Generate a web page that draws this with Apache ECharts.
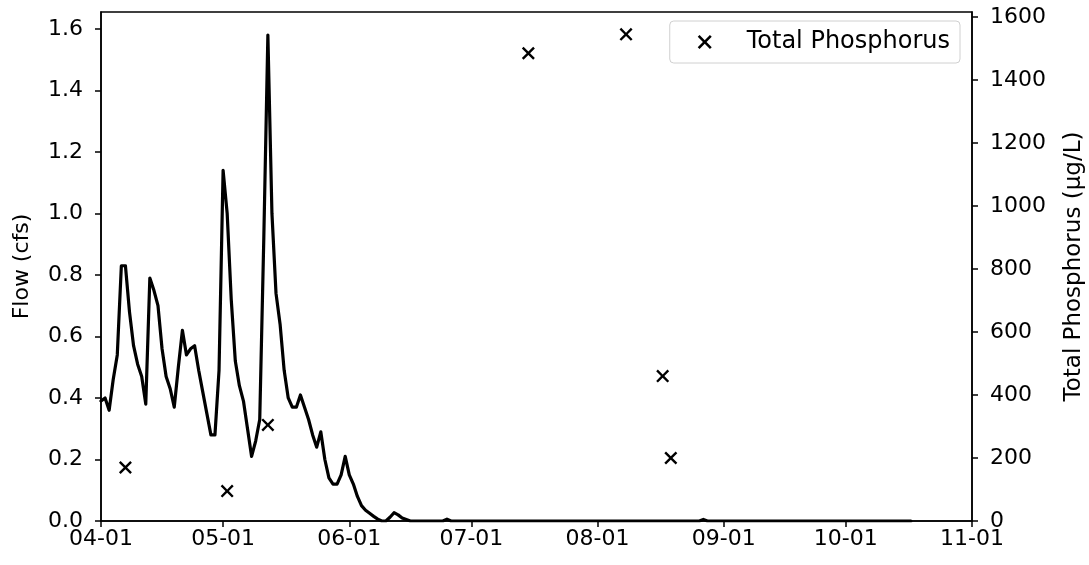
<!DOCTYPE html>
<html>
<head>
<meta charset="utf-8">
<script src="https://cdn.jsdelivr.net/npm/echarts@6/dist/echarts.min.js"></script>
<style>
html,body{margin:0;padding:0;background:#fff;}
#c{width:1089px;height:565px;}
</style>
</head>
<body>
<div id="c"></div>
<script>
// Flow (cfs): day offsets from 04-01 and values
const flowDays = [0,1,2,3,4,5,6,7,8,9,10,11,12,13,14,15,16,17,18,19,20,21,22,23,24,25,26,27,28,29,30,31,32,33,34,35,36,37,38,39,40,41,42,43,44,45,46,47,48,49,50,51,52,53,54,55,56,57,58,59,60,61,62,63,64,65,66,67,68,69,70,71,72,73,74,75,76,77,84,85,86,147,148,149,199];
const flowValues = [0.39,0.40,0.36,0.46,0.54,0.83,0.83,0.68,0.57,0.51,0.47,0.38,0.79,0.75,0.70,0.56,0.47,0.43,0.37,0.50,0.62,0.54,0.56,0.57,0.49,0.42,0.35,0.28,0.28,0.49,1.14,1.00,0.72,0.52,0.44,0.39,0.30,0.21,0.26,0.33,0.92,1.58,1.00,0.74,0.64,0.49,0.40,0.37,0.37,0.41,0.37,0.33,0.28,0.24,0.29,0.20,0.14,0.12,0.12,0.15,0.21,0.15,0.12,0.08,0.05,0.035,0.025,0.015,0.006,0,0,0.012,0.027,0.02,0.01,0.005,0,0,0,0.006,0,0,0.005,0,0];
// Total Phosphorus (µg/L) samples: day offsets from 04-01 and values
const tpDays = [6,31,41,105,129,138,140];
const tpValues = [170,95,305,1485,1545,460,200];
const startYear = 2019;
const xMinLabel = '04-01', xMaxLabel = '11-01';
const leftMax = 1.655, leftInterval = 0.2;
const rightMax = 1616, rightInterval = 200;
const seriesNames = ['Flow', 'Total Phosphorus'];
const axisNames = ['Flow (cfs)', 'Total Phosphorus (µg/L)'];

function dayToTime(d){ return new Date(startYear, 3, 1 + d).getTime(); }
function labelToTime(s){ const p = s.split('-'); return new Date(startYear, +p[0]-1, +p[1]).getTime(); }

const flowData = flowDays.map((d,i)=>[dayToTime(d), flowValues[i]]);
const tpData = tpDays.map((d,i)=>[dayToTime(d), tpValues[i]]);

const X = 'path://M0,1.3 L1.3,0 L5,3.7 L8.7,0 L10,1.3 L6.3,5 L10,8.7 L8.7,10 L5,6.3 L1.3,10 L0,8.7 L3.7,5 Z';
const font = 'DejaVu Sans';
const fs = 22;

const chart = echarts.init(document.getElementById('c'), null, {renderer:'canvas'});
chart.setOption({
  backgroundColor:'#fff',
  animation:false,
  textStyle:{fontFamily:font},
  grid:{left:101,right:117,top:12,bottom:44,show:true,borderColor:'#000',borderWidth:1.5,backgroundColor:'transparent',outerBoundsMode:'none',containLabel:false},
  legend:{
    data:[{name:seriesNames[1], icon:X}],
    right:129, top:21,
    itemWidth:14, itemHeight:14,
    padding:[9,10,9,28],
    borderColor:'#d0d0d0', borderWidth:1, borderRadius:4,
    backgroundColor:'rgba(255,255,255,0.8)',
    textStyle:{fontFamily:font,fontSize:24,color:'#000',padding:[0,0,0,30]},
    itemStyle:{color:'#000',opacity:1}
  },
  xAxis:{
    type:'time',
    min:labelToTime(xMinLabel), max:labelToTime(xMaxLabel),
    minInterval:28*86400000, maxInterval:31*86400000,
    splitNumber:7,
    axisLine:{show:true,lineStyle:{color:'#000',width:1.5}},
    axisTick:{show:true,length:6,lineStyle:{color:'#000',width:1.5}},
    axisLabel:{formatter:'{MM}-{dd}',fontFamily:font,fontSize:fs,color:'#000',margin:7,showMinLabel:true,showMaxLabel:true,hideOverlap:false},
    splitLine:{show:false}
  },
  yAxis:[{
    type:'value', min:0, max:leftMax, interval:leftInterval,
    name:axisNames[0], nameLocation:'middle', nameRotate:90, nameGap:68,
    nameTextStyle:{fontFamily:font,fontSize:fs,color:'#000'},
    axisLine:{show:true,lineStyle:{color:'#000',width:1.5}},
    axisTick:{show:true,length:6,lineStyle:{color:'#000',width:1.5}},
    axisLabel:{formatter:v=>v.toFixed(1),fontFamily:font,fontSize:fs,color:'#000',margin:18,showMaxLabel:false},
    splitLine:{show:false}
  },{
    type:'value', min:0, max:rightMax, interval:rightInterval, position:'right',
    name:axisNames[1], nameLocation:'middle', nameRotate:90, nameGap:91,
    nameTextStyle:{fontFamily:font,fontSize:23,color:'#000'},
    axisLine:{show:true,lineStyle:{color:'#000',width:1.5}},
    axisTick:{show:true,length:6,lineStyle:{color:'#000',width:1.5}},
    axisLabel:{formatter:v=>String(v),fontFamily:font,fontSize:fs,color:'#000',margin:18,showMaxLabel:false},
    splitLine:{show:false}
  }],
  series:[{
    name:seriesNames[0], type:'line', yAxisIndex:0, data:flowData,
    showSymbol:false, symbol:'none',
    lineStyle:{color:'#000',width:3.2,join:'round',cap:'round'}, itemStyle:{color:'#000'}
  },{
    name:seriesNames[1], type:'scatter', yAxisIndex:1, data:tpData,
    symbol:X, symbolSize:13, itemStyle:{color:'#000',opacity:1}
  }]
});
</script>
</body>
</html>
